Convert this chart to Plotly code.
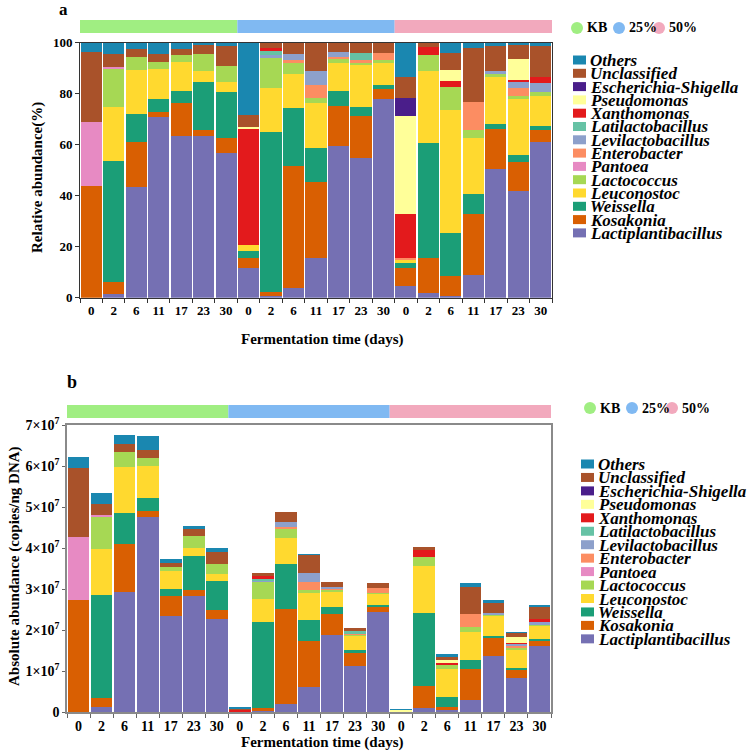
import plotly.graph_objects as go

W = H = 753
SERIF = "Liberation Serif"

# ---------------- data ----------------
GROUPS = ["KB", "25%", "50%"]
GROUP_COLORS = ["#a0ee82", "#80b9f2", "#f2a9bd"]
DAYS = ["0", "2", "6", "11", "17", "23", "30"]

# stacking order: bottom -> top
TAXA = ["Lactiplantibacillus", "Kosakonia", "Weissella", "Leuconostoc", "Lactococcus",
        "Pantoea", "Enterobacter", "Levilactobacillus", "Latilactobacillus", "Xanthomonas",
        "Pseudomonas", "Escherichia-Shigella", "Unclassified", "Others"]
TAXON_COLORS = ["#7570b3", "#d95f02", "#1b9e77", "#ffd92f", "#a6d854",
                "#e78ac3", "#fc8d62", "#8da0cb", "#66c2a5", "#e31a1c",
                "#ffff99", "#4a1e8a", "#a9522a", "#1a87b0"]

# Relative abundance (%), 21 samples: KB 0..30, 25% 0..30, 50% 0..30
REL_LACTIPLANTIBACILLUS = [0, 1.4, 43.3, 71.0, 63.4, 63.4, 56.6, 11.8, 0.5, 3.7, 15.7, 59.6, 54.9, 77.8, 4.6, 1.7, 0.8, 8.9, 50.5, 42.0, 61.2]
REL_KOSAKONIA = [43.8, 4.9, 17.6, 1.9, 13.1, 2.4, 6.1, 3.9, 1.9, 48.1, 29.8, 15.7, 16.5, 3.9, 7.2, 14.0, 7.7, 23.8, 15.5, 11.3, 4.6]
REL_WEISSELLA = [0, 47.3, 11.1, 4.9, 4.7, 18.6, 17.8, 2.6, 62.4, 22.7, 13.3, 5.7, 3.2, 1.7, 1.7, 45.1, 17.0, 8.0, 2.0, 2.6, 1.7]
REL_LEUCONOSTOC = [0, 21.3, 17.3, 11.9, 11.3, 4.6, 4.2, 2.4, 17.3, 13.2, 17.7, 11.2, 17.0, 8.8, 1.3, 28.2, 48.1, 22.0, 18.4, 22.0, 11.7]
REL_LACTOCOCCUS = [0, 15.0, 5.2, 2.8, 2.7, 6.4, 6.3, 0, 12.4, 4.2, 1.9, 1.3, 0.5, 1.0, 0, 6.2, 8.9, 3.1, 1.3, 1.2, 1.3]
REL_PANTOEA = [25.2, 0.6, 0, 0, 0, 0, 0, 0, 0, 0, 0, 0, 0, 0, 0, 0, 0, 0, 0, 0, 0]
REL_ENTEROBACTER = [0, 0, 0, 0, 0, 0, 0, 0, 0, 1.3, 5.0, 1.0, 1.1, 2.9, 0.8, 0, 0, 11.1, 0, 3.3, 0]
REL_LEVILACTOBACILLUS = [0, 0, 0, 0, 0, 0, 0, 0, 0.5, 2.2, 5.5, 1.7, 0, 0, 0, 0, 0, 0, 1.3, 2.6, 3.6]
REL_LATILACTOBACILLUS = [0, 0, 0, 0, 0, 0, 0, 0, 1.7, 0, 0, 0, 2.6, 0, 0, 0, 0, 0, 0, 0, 0]
REL_XANTHOMONAS = [0, 0, 0, 0, 0, 0, 0, 45.6, 1.3, 0, 0, 0, 0, 0, 17.1, 3.2, 2.5, 0, 0, 0.4, 2.6]
REL_PSEUDOMONAS = [0, 0, 0, 0, 0, 0, 0, 0.6, 0, 0, 0, 0, 0, 0, 38.5, 0, 4.3, 0, 0, 8.2, 0]
REL_ESCHERICHIA = [0, 0, 0, 0, 0, 0, 0, 0, 0, 0, 0, 0, 0, 0, 7.0, 0, 0, 0, 0, 0, 0]
REL_UNCLASSIFIED = [27.5, 5.1, 2.9, 3.1, 2.2, 3.7, 7.8, 4.6, 2.0, 4.6, 11.1, 3.8, 4.2, 3.9, 8.2, 1.6, 6.8, 21.1, 9.7, 5.9, 12.0]
REL_OTHERS = [3.5, 4.4, 2.6, 4.4, 2.6, 0.9, 1.2, 28.5, 0, 0, 0, 0, 0, 0, 13.6, 0, 3.9, 2.0, 1.3, 0.5, 1.3]

# Absolute abundance, in units of 10^7 copies/ng DNA
ABS_LACTIPLANTIBACILLUS = [0, 0.11, 2.93, 4.75, 2.34, 2.84, 2.26, 0.012, 0.02, 0.20, 0.60, 1.88, 1.12, 2.43, 0.003, 0.10, 0.05, 0.29, 1.37, 0.82, 1.61]
ABS_KOSAKONIA = [2.72, 0.24, 1.17, 0.16, 0.49, 0.14, 0.23, 0.004, 0.08, 2.31, 1.14, 0.50, 0.33, 0.12, 0.005, 0.54, 0.08, 0.75, 0.43, 0.20, 0.12]
ABS_WEISSELLA = [0, 2.50, 0.75, 0.30, 0.17, 0.82, 0.71, 0.003, 2.09, 1.10, 0.50, 0.17, 0.06, 0.06, 0.001, 1.78, 0.23, 0.23, 0.05, 0.06, 0.05]
ABS_LEUCONOSTOC = [0, 1.13, 1.13, 0.79, 0.44, 0.21, 0.17, 0.003, 0.57, 0.64, 0.67, 0.37, 0.35, 0.28, 0.001, 1.14, 0.68, 0.69, 0.50, 0.45, 0.32]
ABS_LACTOCOCCUS = [0, 0.78, 0.37, 0.20, 0.10, 0.28, 0.23, 0, 0.42, 0.21, 0.07, 0.07, 0.03, 0.02, 0, 0.23, 0.12, 0.11, 0.04, 0.03, 0.03]
ABS_PANTOEA = [1.56, 0.04, 0, 0, 0, 0, 0, 0, 0, 0, 0, 0, 0, 0, 0, 0, 0, 0, 0, 0, 0]
ABS_ENTEROBACTER = [0, 0, 0, 0, 0, 0, 0, 0, 0, 0.06, 0.20, 0.02, 0.02, 0.11, 0.001, 0, 0, 0.32, 0, 0.06, 0]
ABS_LEVILACTOBACILLUS = [0, 0, 0, 0, 0, 0, 0, 0, 0.02, 0.11, 0.20, 0.05, 0, 0, 0, 0, 0, 0, 0.02, 0.05, 0.07]
ABS_LATILACTOBACILLUS = [0, 0, 0, 0, 0, 0, 0, 0, 0.05, 0, 0, 0, 0.06, 0, 0, 0, 0, 0, 0, 0, 0]
ABS_XANTHOMONAS = [0, 0, 0, 0, 0, 0, 0, 0.046, 0.06, 0, 0, 0, 0, 0, 0.012, 0.16, 0.04, 0, 0, 0.01, 0.08]
ABS_PSEUDOMONAS = [0, 0, 0, 0, 0, 0, 0, 0.001, 0, 0, 0, 0, 0, 0, 0.027, 0, 0.07, 0, 0, 0.16, 0]
ABS_ESCHERICHIA = [0, 0, 0, 0, 0, 0, 0, 0, 0, 0, 0, 0, 0, 0, 0.005, 0, 0, 0, 0, 0, 0]
ABS_UNCLASSIFIED = [1.66, 0.27, 0.19, 0.19, 0.09, 0.17, 0.31, 0.005, 0.08, 0.26, 0.45, 0.12, 0.09, 0.13, 0.006, 0.07, 0.08, 0.65, 0.26, 0.09, 0.28]
ABS_OTHERS = [0.27, 0.28, 0.22, 0.35, 0.11, 0.08, 0.08, 0.028, 0, 0, 0.02, 0, 0, 0, 0.009, 0, 0.06, 0.10, 0.06, 0.02, 0.06]

ABS_TICKS_E7 = [0, 1, 2, 3, 4, 5, 6, 7]
REL_TICKS = [0, 20, 40, 60, 80, 100]

REL = [REL_LACTIPLANTIBACILLUS, REL_KOSAKONIA, REL_WEISSELLA, REL_LEUCONOSTOC, REL_LACTOCOCCUS,
       REL_PANTOEA, REL_ENTEROBACTER, REL_LEVILACTOBACILLUS, REL_LATILACTOBACILLUS, REL_XANTHOMONAS,
       REL_PSEUDOMONAS, REL_ESCHERICHIA, REL_UNCLASSIFIED, REL_OTHERS]
ABS = [ABS_LACTIPLANTIBACILLUS, ABS_KOSAKONIA, ABS_WEISSELLA, ABS_LEUCONOSTOC, ABS_LACTOCOCCUS,
       ABS_PANTOEA, ABS_ENTEROBACTER, ABS_LEVILACTOBACILLUS, ABS_LATILACTOBACILLUS, ABS_XANTHOMONAS,
       ABS_PSEUDOMONAS, ABS_ESCHERICHIA, ABS_UNCLASSIFIED, ABS_OTHERS]

tick_text = DAYS * len(GROUPS)
n = len(tick_text)
xs = list(range(n))

# ---------------- figure ----------------
fig = go.Figure()
for name, col, rv, av in zip(TAXA, TAXON_COLORS, REL, ABS):
    fig.add_trace(go.Bar(x=xs, y=rv, name=name, marker=dict(color=col, line=dict(width=0)),
                         xaxis="x", yaxis="y", showlegend=False))
    fig.add_trace(go.Bar(x=xs, y=[v * 1e7 for v in av], name=name,
                         marker=dict(color=col, line=dict(width=0)),
                         xaxis="x2", yaxis="y2", showlegend=False))


def px(x):
    return x / W


def py(y):
    return 1 - y / H


tickfont_a = dict(family=SERIF, size=13, color="black", weight="bold")
tickfont_b = dict(family=SERIF, size=14, color="black", weight="bold")
boundaries = [k - 0.5 for k in range(n + 1)]

fig.update_layout(
    width=W, height=H, margin=dict(l=0, r=0, t=0, b=0, autoexpand=False),
    paper_bgcolor="white", plot_bgcolor="white",
    barmode="stack", bargap=0.06, showlegend=False,
    xaxis=dict(domain=[px(80), px(552)], anchor="y", range=[-0.5, n - 0.5],
               tickmode="array", tickvals=xs, ticktext=tick_text, ticks="",
               ticklabelstandoff=1, tickfont=tickfont_a, automargin=False,
               showline=True, linecolor="#333", linewidth=1, mirror=True,
               showgrid=False, zeroline=False,
               minor=dict(tickmode="array", tickvals=boundaries, ticks="outside",
                          ticklen=4, tickcolor="#333", showgrid=False)),
    yaxis=dict(domain=[py(297.7), py(42.7)], anchor="x", range=[0, 100],
               tickmode="array", tickvals=REL_TICKS, ticks="outside", ticklen=4,
               tickcolor="#333", tickfont=tickfont_a, automargin=False,
               showline=True, linecolor="#333", linewidth=1, mirror=True,
               showgrid=False, zeroline=False),
    xaxis2=dict(domain=[px(67), px(551)], anchor="y2", range=[-0.5, n - 0.5],
                tickmode="array", tickvals=xs, ticktext=tick_text, ticks="",
                ticklabelstandoff=0, tickfont=tickfont_b, automargin=False,
                showline=True, linecolor="#8a8a8a", linewidth=1.5, mirror=True,
                showgrid=False, zeroline=False,
                minor=dict(tickmode="array", tickvals=boundaries, ticks="outside",
                           ticklen=4, tickcolor="#666", showgrid=False)),
    yaxis2=dict(domain=[py(712), py(425)], anchor="x2", range=[0, 7e7],
                tickmode="array", tickvals=[t * 1e7 for t in ABS_TICKS_E7],
                ticktext=["0"] + [f"{t}×10<sup>7</sup>" for t in ABS_TICKS_E7[1:]],
                ticks="outside", ticklen=3, tickcolor="#666", tickfont=tickfont_b,
                automargin=False,
                showline=True, linecolor="#8a8a8a", linewidth=1.5, mirror=True,
                showgrid=False, zeroline=False),
)

shapes = []
annotations = []

# group strips above each panel
for gi, gc in enumerate(GROUP_COLORS):
    x0 = gi * len(DAYS) - 0.5
    x1 = (gi + 1) * len(DAYS) - 0.5
    shapes.append(dict(type="rect", xref="x", yref="y domain", x0=x0, x1=x1,
                       y0=1 + 9.7 / 255, y1=1 + 22.7 / 255,
                       fillcolor=gc, line=dict(width=0), layer="above"))
    shapes.append(dict(type="rect", xref="x2", yref="y2 domain", x0=x0, x1=x1,
                       y0=1 + 7 / 287, y1=1 + 20 / 287,
                       fillcolor=gc, line=dict(width=0), layer="above"))

# group legends (circles + labels)
GROUP_LEG_A = dict(y=28, cx=[577, 619, 659])
GROUP_LEG_B = dict(y=408, cx=[590, 632, 672])
for leg in (GROUP_LEG_A, GROUP_LEG_B):
    for gname, gc, cx in zip(GROUPS, GROUP_COLORS, leg["cx"]):
        r = 6
        shapes.append(dict(type="circle", xref="paper", yref="paper",
                           x0=px(cx - r), x1=px(cx + r), y0=py(leg["y"] + r), y1=py(leg["y"] - r),
                           fillcolor=gc, line=dict(width=0)))
        annotations.append(dict(xref="paper", yref="paper", x=px(cx + 8), y=py(leg["y"]),
                                text=f"<b>{gname}</b>", showarrow=False, xanchor="left",
                                yanchor="middle",
                                font=dict(family=SERIF, size=14, color="black")))

# taxa legends (top = last stacked)
TAXA_LEG_A = dict(y0=60, dy=13.3, sx=573, tx=588)
TAXA_LEG_B = dict(y0=464, dy=13.45, sx=581, tx=596)
for leg in (TAXA_LEG_A, TAXA_LEG_B):
    for k, (name, col) in enumerate(zip(TAXA[::-1], TAXON_COLORS[::-1])):
        yc = leg["y0"] + k * leg["dy"]
        shapes.append(dict(type="rect", xref="paper", yref="paper",
                           x0=px(leg["sx"]), x1=px(leg["sx"] + 13),
                           y0=py(yc + 4.5), y1=py(yc - 4.5),
                           fillcolor=col, line=dict(width=0)))
        annotations.append(dict(xref="paper", yref="paper", x=px(leg["tx"]), y=py(yc + 0.5),
                                text=f"<b><i>{name}</i></b>", showarrow=False,
                                xanchor="left", yanchor="middle",
                                font=dict(family=SERIF, size=17, color="black")))

# panel letters and axis titles
annotations += [
    dict(xref="paper", yref="paper", x=px(64), y=py(10), text="<b>a</b>", showarrow=False,
         xanchor="center", yanchor="middle", font=dict(family=SERIF, size=17, color="black")),
    dict(xref="paper", yref="paper", x=px(72), y=py(382), text="<b>b</b>", showarrow=False,
         xanchor="center", yanchor="middle", font=dict(family=SERIF, size=18, color="black")),
    dict(xref="paper", yref="paper", x=px(37), y=py(178), text="<b>Relative abundance(%)</b>",
         textangle=-90, showarrow=False, xanchor="center", yanchor="middle",
         font=dict(family=SERIF, size=15, color="black")),
    dict(xref="paper", yref="paper", x=px(14), y=py(566),
         text="<b>Absolute abundance (copies/ng DNA)</b>",
         textangle=-90, showarrow=False, xanchor="center", yanchor="middle",
         font=dict(family=SERIF, size=15, color="black")),
    dict(xref="paper", yref="paper", x=px(322), y=py(339), text="<b>Fermentation time (days)</b>",
         showarrow=False, xanchor="center", yanchor="middle",
         font=dict(family=SERIF, size=15, color="black")),
    dict(xref="paper", yref="paper", x=px(322), y=py(742), text="<b>Fermentation time (days)</b>",
         showarrow=False, xanchor="center", yanchor="middle",
         font=dict(family=SERIF, size=15, color="black")),
]

fig.update_layout(shapes=shapes, annotations=annotations)
fig.write_html("out.html",
               post_script="document.body.style.margin='0';document.body.style.overflow='hidden';")
